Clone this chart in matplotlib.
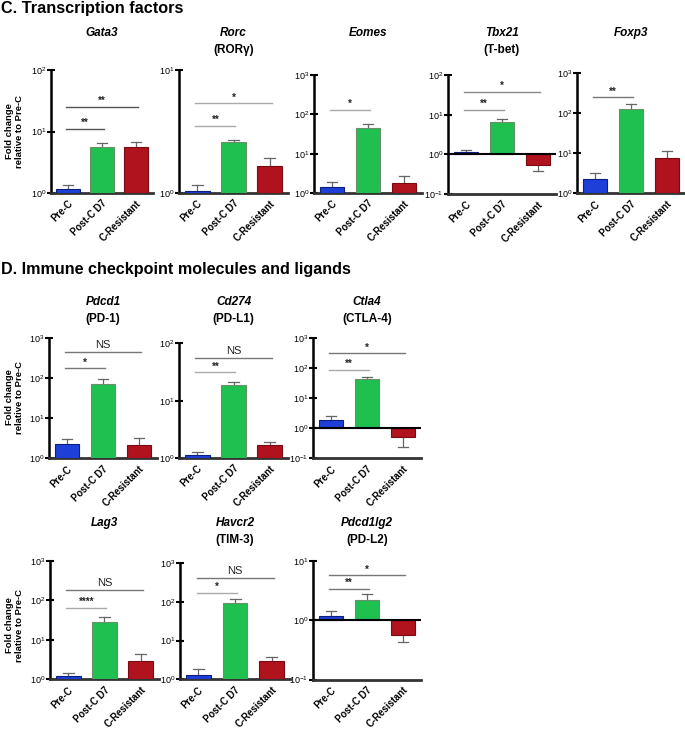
import numpy as np
import matplotlib
matplotlib.use("Agg")
import matplotlib.pyplot as plt
from matplotlib.ticker import NullLocator

plt.rcParams['font.family'] = ['Liberation Sans', 'DejaVu Sans']
plt.rcParams['mathtext.fontset'] = 'custom'
plt.rcParams['mathtext.rm'] = 'Liberation Sans'
plt.rcParams['mathtext.it'] = 'Liberation Sans:italic'
plt.rcParams['mathtext.bf'] = 'Liberation Sans:bold'

# ---------------- data ----------------
groups = ["Pre-C", "Post-C D7", "C-Resistant"]
colors = ["#1f40d8", "#1fbf50", "#b0121e"]
edges = ["#0c1f80", "#6a8f6a", "#7a0a12"]

genes = ["Gata3", "Rorc", "Eomes", "Tbx21", "Foxp3",
         "Pdcd1", "Cd274", "Ctla4", "Lag3", "Havcr2", "Pdcd1lg2"]
subtitles = ["", "(RORγ)", "", "(T-bet)", "",
             "(PD-1)", "(PD-L1)", "(CTLA-4)", "", "(TIM-3)", "(PD-L2)"]

gata3_mean = [1.16, 5.66, 5.5];   gata3_sem = [0.19, 0.74, 1.2]
rorc_mean = [1.04, 2.58, 1.67];   rorc_sem = [0.12, 0.12, 0.24]
eomes_mean = [1.45, 44, 1.83];    eomes_sem = [0.49, 12, 0.87]
tbx21_mean = [1.14, 6.7, 0.53];   tbx21_sem = [0.14, 1.2, 0.16]
foxp3_mean = [2.27, 123, 7.4];    foxp3_sem = [0.88, 41, 4.1]
pdcd1_mean = [2.28, 73.5, 2.1];   pdcd1_sem = [0.76, 20.5, 1.06]
cd274_mean = [1.14, 18.5, 1.66];  cd274_sem = [0.15, 2.4, 0.22]
ctla4_mean = [1.9, 43, 0.5];      ctla4_sem = [0.67, 8, 0.255]
lag3_mean = [1.23, 28.7, 2.9];    lag3_sem = [0.24, 9.8, 1.47]
havcr2_mean = [1.29, 92, 2.97];   havcr2_sem = [0.52, 25, 0.87]
pdcd1lg2_mean = [1.17, 2.16, 0.56]; pdcd1lg2_sem = [0.24, 0.56, 0.13]

means = [gata3_mean, rorc_mean, eomes_mean, tbx21_mean, foxp3_mean,
         pdcd1_mean, cd274_mean, ctla4_mean, lag3_mean, havcr2_mean, pdcd1lg2_mean]
sems = [gata3_sem, rorc_sem, eomes_sem, tbx21_sem, foxp3_sem,
        pdcd1_sem, cd274_sem, ctla4_sem, lag3_sem, havcr2_sem, pdcd1lg2_sem]

# y-axis decade ranges (exponents)
yranges = [(0, 2), (0, 1), (0, 3), (-1, 2), (0, 3),
           (0, 3), (0, 2), (-1, 3), (0, 3), (0, 3), (-1, 1)]

# significance brackets: (from group, to group, label, y level)
sigs = [
    [(0, 1, "**", 11.1), (0, 2, "**", 25.3)],
    [(0, 1, "**", 3.53), (0, 2, "*", 5.36)],
    [(0, 1, "*", 130)],
    [(0, 1, "**", 13.4), (0, 2, "*", 38)],
    [(0, 1, "**", 244)],
    [(0, 1, "*", 178), (0, 2, "NS", 462)],
    [(0, 1, "**", 31.3), (0, 2, "NS", 56)],
    [(0, 1, "**", 88), (0, 2, "*", 316)],
    [(0, 1, "****", 65), (0, 2, "NS", 182)],
    [(0, 1, "*", 173), (0, 2, "NS", 422)],
    [(0, 1, "**", 3.4), (0, 2, "*", 5.67)],
]
sig_colors = [["#555", "#555"], ["#aaa", "#aaa"], ["#aaa"], ["#999", "#888"], ["#777"],
              ["#777", "#777"], ["#aaa", "#777"], ["#aaa", "#777"], ["#aaa", "#777"],
              ["#aaa", "#777"], ["#777", "#777"]]

# ---------------- layout (pixels) ----------------
W, H = 685, 730
fig = plt.figure(figsize=(W / 100, H / 100), dpi=100)

boxes = [  # left, top, right, bottom
    (51, 70, 153, 193), (179, 70, 288, 193), (314, 75, 422, 193),
    (448, 75, 556, 194), (577, 72.7, 685, 193.3),
    (49, 338.3, 157, 458.3), (179, 343.3, 288, 458), (313, 338.3, 421, 458.3),
    (50, 560.7, 159, 679.3), (180, 563.3, 290, 679.3), (313, 560.7, 421, 679.5),
]
title_y = [33] * 5 + [302] * 3 + [523] * 3
sub_dy = 17


def add_px_axes(l, t, r, b):
    return fig.add_axes([l / W, 1 - b / H, (r - l) / W, (b - t) / H])


x = np.arange(3)
for k in range(len(genes)):
    l, t, r, b = boxes[k]
    ax = add_px_axes(l, t, r, b)
    lo, hi = yranges[k]
    ax.set_yscale('log')
    ax.set_ylim(10.0 ** lo, 10.0 ** hi)
    ax.set_xlim(-0.5, 2.5)
    m = np.array(means[k]); s = np.array(sems[k])
    ax.bar(x, m - 1, bottom=1, width=0.68, color=colors, edgecolor=edges,
           linewidth=0.8, zorder=3)
    for i in range(3):
        end = m[i] + s[i] if m[i] >= 1 else m[i] - s[i]
        ax.plot([x[i], x[i]], [m[i], end], color="#666", lw=0.9, zorder=2)
        ax.plot([x[i] - 0.15, x[i] + 0.15], [end, end], color="#666", lw=0.9, zorder=2)
    if lo < 0:
        ax.axhline(1, color="black", lw=1.5, zorder=4)
    for j, (g0, g1, lab, yv) in enumerate(sigs[k]):
        ax.plot([g0 - 0.05, g1 + 0.05], [yv, yv], color=sig_colors[k][j], lw=1.0,
                clip_on=False)
        if lab == "NS":
            ax.annotate(lab, ((g0 + g1) / 2, yv), xytext=(0, 1.5),
                        textcoords='offset points', ha='center', va='bottom',
                        fontsize=8, color="#222")
        else:
            ax.annotate(lab, ((g0 + g1) / 2, yv), xytext=(0, 0.5),
                        textcoords='offset points', ha='center', va='bottom',
                        fontsize=7, fontweight='bold', color="#222")
    for sp in ('top', 'right'):
        ax.spines[sp].set_visible(False)
    ax.spines['left'].set_linewidth(1.8)
    ax.spines['left'].set_color('black')
    ax.spines['bottom'].set_linewidth(2.0)
    ax.spines['bottom'].set_color('#333333')
    decs = list(range(lo, hi + 1))
    ax.set_yticks([10.0 ** d for d in decs])
    ax.set_yticklabels([f"$10^{{{d}}}$" for d in decs], fontsize=6.5)
    ax.yaxis.set_minor_locator(NullLocator())
    ax.tick_params(axis='y', direction='inout', length=6, width=1.5, pad=0.5)
    ax.set_xticks(x)
    ax.set_xticklabels(groups, rotation=45, ha='right', va='top',
                       rotation_mode='anchor', fontsize=6.9, fontweight='bold')
    ax.tick_params(axis='x', length=0, pad=4)
    ax.set_facecolor('none')
    cx = (l + r) / 2
    fig.text(cx / W, 1 - title_y[k] / H, genes[k], ha='center', va='center',
             fontsize=8.5, fontweight='bold', fontstyle='italic')
    if subtitles[k]:
        fig.text(cx / W, 1 - (title_y[k] + sub_dy) / H, subtitles[k], ha='center',
                 va='center', fontsize=8.5, fontweight='bold')

# row y-labels
for yc in (131, 397, 625):
    fig.text(14.5 / W, 1 - yc / H, "Fold change\nrelative to Pre-C", rotation=90,
             ha='center', va='center', fontsize=6.8, fontweight='bold',
             linespacing=1.1)

fig.text(1 / W, 1 - 8 / H, "C. Transcription factors", ha='left', va='center',
         fontsize=11.7, fontweight='bold')
fig.text(1 / W, 1 - 270 / H, "D. Immune checkpoint molecules and ligands",
         ha='left', va='center', fontsize=11.6, fontweight='bold')

fig.savefig("out.png", dpi=100)
